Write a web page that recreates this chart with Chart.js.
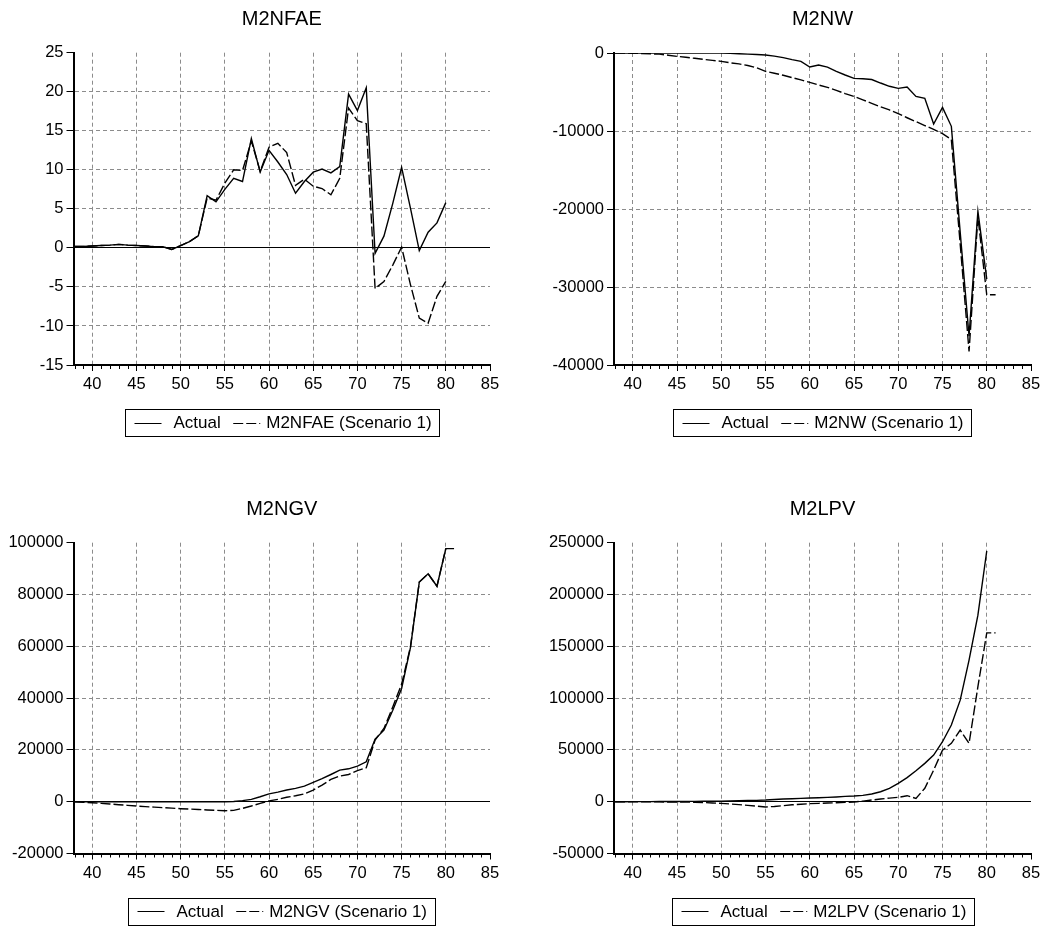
<!DOCTYPE html>
<html>
<head>
<meta charset="utf-8">
<script src="https://cdn.jsdelivr.net/npm/chart.js@4.4.1/dist/chart.umd.min.js"></script>
<style>
  body { margin: 0; background: #fff; }
  .panel { position: absolute; }
</style>
</head>
<body>
<div class="panel" style="left:0;top:0"><canvas id="c1" width="523" height="466"></canvas></div>
<div class="panel" style="left:523px;top:0"><canvas id="c2" width="523" height="466"></canvas></div>
<div class="panel" style="left:0;top:466px"><canvas id="c3" width="523" height="467"></canvas></div>
<div class="panel" style="left:523px;top:466px"><canvas id="c4" width="523" height="467"></canvas></div>
<script>
// years 1938..1981 (shown as 38..81)
const years = [38,39,40,41,42,43,44,45,46,47,48,49,50,51,52,53,54,55,56,57,58,59,60,61,62,63,64,65,66,67,68,69,70,71,72,73,74,75,76,77,78,79,80,81];

const nfaeActual = [0.17,0.17,0.25,0.3,0.35,0.45,0.35,0.3,0.25,0.15,0.15,-0.2,0.3,0.8,1.55,
  6.7,5.9,7.5,8.9,8.5,14.0,9.7,12.5,11.0,9.4,
  7.0,8.5,9.7,10.1,9.6,10.4,19.7,17.6,20.5,
  -0.7,1.5,5.7,10.3,5.1,-0.35,2.0,3.2,5.8,null];
const nfaeScen = [0.17,0.17,0.25,0.3,0.35,0.45,0.35,0.3,0.25,0.15,0.15,-0.2,0.3,0.8,1.55,
  6.4,6.1,8.3,10.0,9.9,13.7,9.8,12.9,13.4,12.2,
  8.0,8.8,7.9,7.6,6.8,8.9,17.9,16.3,15.9,
  -5.2,-4.3,-2.2,0.1,-4.7,-9.0,-9.65,-6.2,-4.3,null];

const nwActual = [0,0,0,0,0,0,0,0,0,0,0,0,0,
  -50,-100,-150,-200,-260,-400,-600,-850,-1070,-1800,
  -1540,-1800,-2350,-2820,-3250,-3300,-3400,-3850,-4270,-4530,
  -4360,-5560,-5800,-9100,-6970,-9400,-23000,-36300,-20300,-29000,null];
const nwScen = [0,0,-30,-60,-100,-150,-280,-430,-550,-680,
  -820,-950,-1070,-1250,-1400,-1600,-1900,-2350,-2600,-2850,
  -3150,-3450,-3760,-4100,-4400,-4800,-5200,-5560,-6000,-6450,
  -6900,-7300,-7780,-8300,-8800,-9300,-9800,-10340,-11100,-24500,
  -38250,-21000,-31000,-31000];

const ngvActual = [0,0,0,0,0,0,0,0,0,0,0,0,0,0,0,0,0,0,
  100,400,900,1900,3000,3700,4500,5150,6000,7450,
  8870,10500,12200,12700,13750,15400,24200,27600,35300,43700,
  59500,84800,88000,83200,97700,null];
const ngvScen = [0,-200,-400,-650,-900,-1150,-1400,-1670,-1900,-2100,
  -2300,-2500,-2700,-2850,-3000,-3200,-3350,-3470,-3340,-2570,
  -1670,-640,300,900,1700,2300,3000,4500,6400,8600,
  9900,10500,12000,13100,23800,28300,36600,45400,59800,84800,
  88000,83200,97700,97700];

const lpvActual = [0,0,50,100,100,150,200,250,300,350,
  400,450,500,650,900,1100,1300,1600,2100,2600,
  2900,3200,3500,3800,4200,4600,5100,5500,6100,7400,
  9600,12900,17700,23200,29900,37000,45000,57900,74000,98000,
  136700,180000,242000,null];
const lpvScen = [0,0,0,-100,-150,-200,-250,-300,-400,-500,
  -800,-1200,-1600,-2200,-2800,-3500,-4300,-5100,-4600,-3800,
  -3000,-2400,-1900,-1600,-1300,-950,-600,-300,600,1600,
  2600,3500,4200,5800,3200,12900,30500,49800,56300,69100,
  56300,111000,163000,163000];

const FONT = "'Liberation Sans', Arial, sans-serif";
const GRID = '#8c8c8c';

const pts = (arr) => years.map((yr, i) => ({ x: yr, y: arr[i] })).filter(p => p.y != null);

// title, legend box and minor ticks on the x axis
const decoPlugin = {
  id: 'deco',
  afterDraw(chart, _args, opts) {
    const { ctx, chartArea: a, scales: { x } } = chart;
    const cx = (a.left + a.right) / 2;
    ctx.save();

    // minor year ticks
    ctx.strokeStyle = '#000';
    ctx.lineWidth = 1;
    ctx.beginPath();
    for (let yr = 38; yr < 85; yr++) {
      if (yr % 5 === 0) continue;
      const px = Math.round(x.getPixelForValue(yr)) + 0.5;
      ctx.moveTo(px, a.bottom);
      ctx.lineTo(px, a.bottom + 4);
    }
    ctx.stroke();

    // title
    ctx.fillStyle = '#000';
    ctx.font = `20px ${FONT}`;
    ctx.textAlign = 'center';
    ctx.textBaseline = 'middle';
    ctx.fillText(opts.title, cx, a.top - 33.5);

    // legend
    ctx.font = `17px ${FONT}`;
    const labels = chart.data.datasets.map(d => d.label);
    const wA = ctx.measureText(labels[0]).width;
    const wS = ctx.measureText(labels[1]).width;
    const w = 9 + 27 + 12 + wA + 12.5 + 27 + 6 + wS + 8;
    const h = 27;
    const left = Math.round(cx - w / 2) + 0.5;
    const cy = a.bottom + 57.7;
    const top = Math.round(cy - h / 2) + 0.5;
    ctx.strokeStyle = '#000';
    ctx.lineWidth = 1;
    ctx.strokeRect(left, top, Math.round(w), h);

    const ly = Math.round(cy) + 0.5;
    let px = left + 9;
    ctx.beginPath();
    ctx.moveTo(px, ly); ctx.lineTo(px + 27, ly);
    ctx.stroke();
    px += 27 + 12;
    ctx.textAlign = 'left';
    ctx.fillText(labels[0], px, cy + 1);
    px += wA + 12.5;
    ctx.setLineDash([10, 3]);
    ctx.beginPath();
    ctx.moveTo(px, ly); ctx.lineTo(px + 27, ly);
    ctx.stroke();
    ctx.setLineDash([]);
    px += 27 + 6;
    ctx.fillText(labels[1], px, cy + 1);

    ctx.restore();
  }
};

function makePanel(id, p) {
  new Chart(document.getElementById(id), {
    type: 'line',
    data: {
      datasets: [
        { label: 'Actual', data: pts(p.actual), borderColor: '#000', borderWidth: 1.4,
          pointRadius: 0, tension: 0, fill: false },
        { label: p.scenLabel, data: pts(p.scen), borderColor: '#000', borderWidth: 1.4,
          borderDash: [10, 3], pointRadius: 0, tension: 0, fill: false }
      ]
    },
    options: {
      responsive: false,
      animation: false,
      events: [],
      layout: { padding: { left: 0, right: p.padR, top: p.padT, bottom: p.padB } },
      scales: {
        x: {
          type: 'linear',
          min: 37.88,
          max: 85,
          afterFit: (s) => { s.height = 30; },
          ticks: {
            stepSize: 5, autoSkip: false, maxRotation: 0, includeBounds: false,
            padding: 4, color: '#000', font: { family: FONT, size: 16.5 },
            callback: (v) => String(v)
          },
          grid: {
            color: (c) => (c.tick && c.tick.value >= 85) ? 'rgba(0,0,0,0)' : GRID,
            lineWidth: 1,
            drawTicks: true, tickLength: 6, tickColor: '#000', tickWidth: 1
          },
          border: { display: true, color: '#000', width: 2, dash: [4, 3] }
        },
        y: {
          min: p.yMin,
          max: p.yMax,
          afterFit: (s) => { s.width = p.yw; },
          ticks: {
            stepSize: p.step, padding: 3, color: '#000', font: { family: FONT, size: 16.5 },
            callback: (v) => String(v)
          },
          grid: {
            color: (c) => {
              if (!c.tick) return GRID;
              const v = c.tick.value;
              if (v === p.yMax || v === p.yMin) return 'rgba(0,0,0,0)';
              return v === 0 ? '#000' : GRID;
            },
            lineWidth: 1,
            drawTicks: true, tickLength: 7, tickColor: '#000', tickWidth: 1
          },
          border: {
            display: true, color: '#000', width: 2,
            dash: (c) => (c.tick && c.tick.value === 0) ? [] : [4, 3]
          }
        }
      },
      plugins: {
        legend: { display: false },
        tooltip: { enabled: false },
        deco: { title: p.title }
      }
    },
    plugins: [decoPlugin]
  });
}

makePanel('c1', { title: 'M2NFAE', scenLabel: 'M2NFAE (Scenario 1)', actual: nfaeActual, scen: nfaeScen,
  yMin: -15, yMax: 25, step: 5, yw: 73.5, padR: 33, padT: 52.7, padB: 71 });
makePanel('c2', { title: 'M2NW', scenLabel: 'M2NW (Scenario 1)', actual: nwActual, scen: nwScen,
  yMin: -40000, yMax: 0, step: 10000, yw: 91, padR: 15, padT: 53, padB: 71 });
makePanel('c3', { title: 'M2NGV', scenLabel: 'M2NGV (Scenario 1)', actual: ngvActual, scen: ngvScen,
  yMin: -20000, yMax: 100000, step: 20000, yw: 73.5, padR: 33, padT: 76.7, padB: 49.5 });
makePanel('c4', { title: 'M2LPV', scenLabel: 'M2LPV (Scenario 1)', actual: lpvActual, scen: lpvScen,
  yMin: -50000, yMax: 250000, step: 50000, yw: 91, padR: 15, padT: 76.7, padB: 49.5 });
</script>
</body>
</html>
